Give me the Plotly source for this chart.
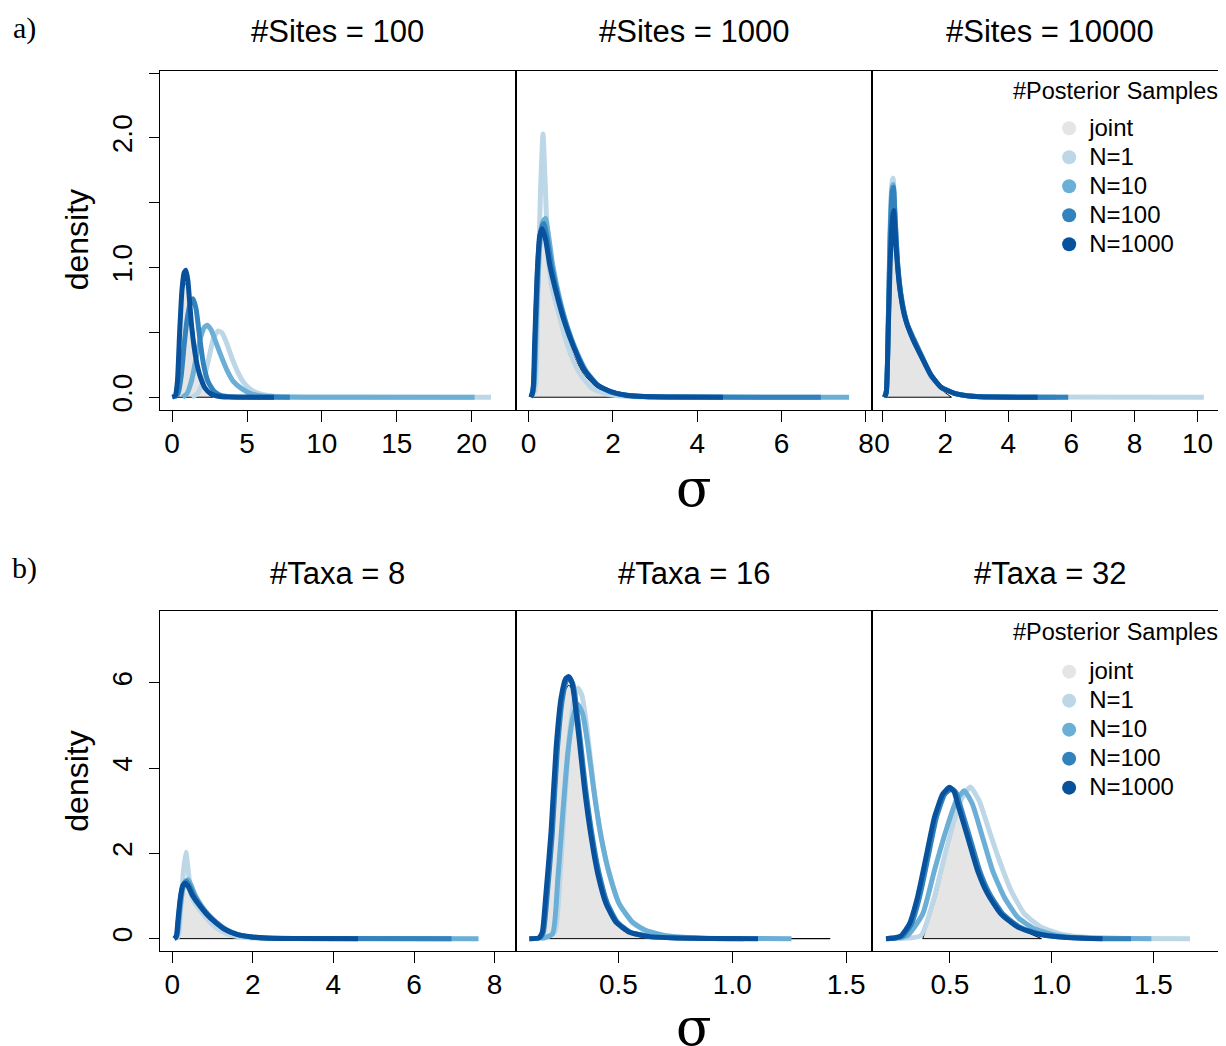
import plotly.graph_objects as go

# the page body adds an 8px margin, so the figure is drawn 8px smaller
OFF = 8
W, H = 1226 - OFF, 1046 - OFF

# colours: joint + Brewer Blues
series_names = ["joint", "N=1", "N=10", "N=100", "N=1000"]
series_colors = ["#E5E5E5", "#BDD7E7", "#6BAED6", "#3182BD", "#08519C"]

top_titles = ["#Sites = 100", "#Sites = 1000", "#Sites = 10000"]
bottom_titles = ["#Taxa = 8", "#Taxa = 16", "#Taxa = 32"]

# ---- a) #Sites = 100 ----
a1_joint_x = [0.05, 0.2, 0.35, 0.5, 0.65, 0.8, 0.95, 1.1, 1.3, 1.6, 1.9, 2.2, 2.7]
a1_joint_y = [0.0, 0.01, 0.10, 0.42, 0.72, 0.86, 0.88, 0.78, 0.52, 0.27, 0.13, 0.05, 0.0]
a1_n1_x = [1.3, 1.7, 2.1, 2.45, 2.75, 3.05, 3.3, 3.6, 4.0, 4.4, 4.8, 5.3, 6.0, 7.0, 9.0, 21.3]
a1_n1_y = [0.0, 0.03, 0.13, 0.30, 0.45, 0.51, 0.50, 0.43, 0.30, 0.19, 0.11, 0.055, 0.022, 0.006, 0.001, 0.0]
a1_n10_x = [0.7, 1.0, 1.3, 1.6, 1.9, 2.15, 2.35, 2.6, 2.9, 3.3, 3.7, 4.1, 4.6, 5.2, 6.0, 7.0, 9.0, 20.2]
a1_n10_y = [0.0, 0.03, 0.13, 0.30, 0.46, 0.54, 0.556, 0.52, 0.43, 0.31, 0.20, 0.12, 0.07, 0.03, 0.01, 0.003, 0.0, 0.0]
a1_n100_x = [0.15, 0.4, 0.6, 0.8, 1.0, 1.2, 1.4, 1.6, 1.85, 2.1, 2.4, 2.8, 3.3, 4.0, 7.86]
a1_n100_y = [0.0, 0.03, 0.16, 0.40, 0.60, 0.72, 0.76, 0.68, 0.45, 0.25, 0.12, 0.045, 0.012, 0.002, 0.0]
a1_n1000_x = [0.0, 0.2, 0.35, 0.5, 0.65, 0.8, 0.92, 1.05, 1.3, 1.6, 1.9, 2.2, 2.6, 3.2, 4.0, 6.8]
a1_n1000_y = [0.0, 0.01, 0.12, 0.50, 0.82, 0.96, 0.98, 0.90, 0.55, 0.29, 0.15, 0.07, 0.025, 0.006, 0.001, 0.0]

# ---- a) #Sites = 1000 (b) #Taxa = 8 shows the same curves) ----
a2_joint_x = [0.1, 0.14, 0.2, 0.26, 0.32, 0.4, 0.5, 0.66, 0.85, 1.05, 1.3, 1.6, 1.9, 2.08]
a2_joint_y = [0.0, 0.30, 0.86, 1.18, 1.26, 1.17, 0.96, 0.73, 0.50, 0.33, 0.18, 0.08, 0.03, 0.0]
a2_n1_x = [0.05, 0.15, 0.22, 0.28, 0.34, 0.40, 0.46, 0.55, 0.7, 0.85, 1.0, 1.2, 1.5, 1.9, 2.5, 4.0]
a2_n1_y = [0.0, 0.05, 0.80, 1.58, 2.03, 1.58, 1.10, 0.85, 0.66, 0.48, 0.33, 0.19, 0.07, 0.02, 0.004, 0.0]
a2_n10_x = [0.07, 0.13, 0.19, 0.26, 0.33, 0.40, 0.47, 0.57, 0.72, 0.9, 1.1, 1.35, 1.65, 2.0, 2.5, 3.5, 7.6]
a2_n10_y = [0.0, 0.10, 0.65, 1.15, 1.35, 1.38, 1.25, 1.02, 0.78, 0.56, 0.38, 0.21, 0.09, 0.035, 0.01, 0.001, 0.0]
a2_n100_x = [0.06, 0.12, 0.17, 0.23, 0.3, 0.36, 0.44, 0.55, 0.7, 0.9, 1.1, 1.35, 1.65, 2.0, 2.5, 3.5, 6.93]
a2_n100_y = [0.0, 0.10, 0.60, 1.10, 1.30, 1.34, 1.22, 1.00, 0.78, 0.55, 0.37, 0.20, 0.09, 0.035, 0.01, 0.001, 0.0]
a2_n1000_x = [0.05, 0.1, 0.14, 0.2, 0.26, 0.32, 0.4, 0.5, 0.66, 0.85, 1.05, 1.3, 1.6, 1.9, 2.3, 3.0, 4.61]
a2_n1000_y = [0.0, 0.04, 0.40, 0.94, 1.24, 1.30, 1.22, 1.02, 0.80, 0.58, 0.40, 0.22, 0.10, 0.05, 0.015, 0.003, 0.0]

# ---- a) #Sites = 10000 ----
a3_joint_x = [0.08, 0.13, 0.2, 0.26, 0.33, 0.37, 0.44, 0.55, 0.71, 0.97, 1.23, 1.55, 1.87, 2.2]
a3_joint_y = [0.0, 0.02, 0.50, 1.00, 1.33, 1.40, 1.13, 0.82, 0.60, 0.42, 0.30, 0.15, 0.06, 0.0]
a3_n1_x = [0.08, 0.14, 0.2, 0.26, 0.31, 0.35, 0.41, 0.5, 0.62, 0.8, 1.0, 1.25, 1.55, 1.87, 2.3, 2.9, 3.6, 10.2]
a3_n1_y = [0.0, 0.05, 0.65, 1.35, 1.65, 1.69, 1.40, 1.02, 0.76, 0.56, 0.44, 0.31, 0.16, 0.075, 0.028, 0.007, 0.001, 0.0]
a3_n10_x = [0.08, 0.14, 0.2, 0.26, 0.31, 0.35, 0.41, 0.5, 0.62, 0.8, 1.0, 1.25, 1.55, 1.87, 2.3, 2.9, 3.6, 5.5]
a3_n10_y = [0.0, 0.05, 0.62, 1.30, 1.60, 1.64, 1.38, 1.01, 0.76, 0.56, 0.45, 0.32, 0.17, 0.077, 0.03, 0.007, 0.001, 0.0]
a3_n100_x = [0.08, 0.14, 0.2, 0.26, 0.32, 0.36, 0.42, 0.5, 0.62, 0.8, 1.0, 1.25, 1.55, 1.87, 2.3, 2.9, 3.6, 5.9]
a3_n100_y = [0.0, 0.05, 0.60, 1.25, 1.58, 1.62, 1.35, 1.00, 0.75, 0.56, 0.45, 0.32, 0.17, 0.077, 0.03, 0.007, 0.001, 0.0]
a3_n1000_x = [0.08, 0.13, 0.2, 0.26, 0.33, 0.37, 0.44, 0.55, 0.71, 0.97, 1.23, 1.55, 1.87, 2.29, 2.82, 3.5, 4.93]
a3_n1000_y = [0.0, 0.03, 0.55, 1.06, 1.38, 1.44, 1.17, 0.86, 0.63, 0.45, 0.32, 0.17, 0.077, 0.03, 0.008, 0.001, 0.0]

# ---- b) #Taxa = 16 ----
b2_joint_x = [0.16, 0.18, 0.204, 0.226, 0.248, 0.268, 0.282, 0.296, 0.306, 0.328, 0.35, 0.38, 0.409, 0.446, 0.49, 0.548, 0.636, 0.754, 0.9, 1.1, 1.43]
b2_joint_y = [0.0, 0.70, 2.30, 4.20, 5.40, 5.85, 5.95, 5.85, 5.50, 4.50, 3.45, 2.30, 1.45, 0.76, 0.35, 0.13, 0.04, 0.012, 0.003, 0.001, 0.0]
b2_n1_x = [0.17, 0.22, 0.245, 0.265, 0.285, 0.305, 0.322, 0.34, 0.36, 0.39, 0.42, 0.455, 0.5, 0.56, 0.62, 0.7, 0.85, 1.0]
b2_n1_y = [0.0, 0.15, 1.60, 3.30, 4.80, 5.60, 5.88, 5.70, 5.00, 3.60, 2.50, 1.60, 0.85, 0.38, 0.17, 0.06, 0.01, 0.0]
b2_n10_x = [0.16, 0.21, 0.233, 0.255, 0.277, 0.3, 0.321, 0.343, 0.365, 0.394, 0.424, 0.46, 0.504, 0.563, 0.622, 0.71, 0.85, 1.0, 1.26]
b2_n10_y = [0.0, 0.11, 1.36, 2.92, 4.33, 5.19, 5.50, 5.27, 4.56, 3.39, 2.38, 1.52, 0.81, 0.38, 0.19, 0.07, 0.015, 0.003, 0.0]
b2_n100_x = [0.11, 0.155, 0.17, 0.185, 0.209, 0.231, 0.253, 0.272, 0.287, 0.301, 0.311, 0.333, 0.355, 0.385, 0.414, 0.451, 0.495, 0.553, 0.641, 0.76, 0.9, 1.05]
b2_n100_y = [0.0, 0.02, 0.15, 0.90, 2.45, 4.40, 5.60, 6.05, 6.10, 5.95, 5.62, 4.62, 3.55, 2.40, 1.55, 0.83, 0.39, 0.15, 0.047, 0.016, 0.003, 0.0]
b2_n1000_x = [0.108, 0.15, 0.165, 0.18, 0.204, 0.226, 0.248, 0.268, 0.282, 0.296, 0.306, 0.328, 0.35, 0.38, 0.409, 0.446, 0.49, 0.548, 0.636, 0.754, 0.9, 1.113]
b2_n1000_y = [0.0, 0.02, 0.15, 0.97, 2.53, 4.48, 5.66, 6.10, 6.15, 6.00, 5.66, 4.64, 3.55, 2.38, 1.52, 0.81, 0.38, 0.15, 0.047, 0.016, 0.003, 0.0]

# ---- b) #Taxa = 32 ----
b3_joint_x = [0.366, 0.43, 0.475, 0.515, 0.545, 0.587, 0.636, 0.685, 0.75, 0.833, 0.95]
b3_joint_y = [0.0, 0.95, 1.85, 2.70, 3.05, 2.30, 1.52, 1.00, 0.55, 0.25, 0.0]
b3_n1_x = [0.25, 0.357, 0.423, 0.472, 0.52, 0.56, 0.6, 0.644, 0.693, 0.743, 0.8, 0.866, 0.948, 1.06, 1.2, 1.68]
b3_n1_y = [0.0, 0.07, 0.97, 1.91, 2.77, 3.31, 3.56, 3.23, 2.53, 1.83, 1.13, 0.58, 0.27, 0.09, 0.02, 0.0]
b3_n10_x = [0.22, 0.29, 0.366, 0.423, 0.48, 0.53, 0.57, 0.61, 0.66, 0.71, 0.767, 0.833, 0.915, 1.03, 1.15, 1.49]
b3_n10_y = [0.0, 0.07, 0.58, 1.59, 2.53, 3.23, 3.47, 3.16, 2.38, 1.59, 0.97, 0.50, 0.23, 0.07, 0.02, 0.0]
b3_n100_x = [0.19, 0.24, 0.27, 0.31, 0.35, 0.392, 0.433, 0.474, 0.51, 0.53, 0.548, 0.597, 0.646, 0.695, 0.76, 0.843, 0.941, 1.07, 1.2, 1.39]
b3_n100_y = [0.0, 0.02, 0.07, 0.34, 0.97, 1.91, 2.84, 3.39, 3.52, 3.42, 3.16, 2.38, 1.59, 1.05, 0.58, 0.27, 0.11, 0.03, 0.006, 0.0]
b3_n1000_x = [0.185, 0.23, 0.26, 0.3, 0.34, 0.382, 0.423, 0.464, 0.497, 0.52, 0.538, 0.587, 0.636, 0.685, 0.75, 0.833, 0.931, 1.06, 1.15, 1.25]
b3_n1000_y = [0.0, 0.02, 0.07, 0.34, 0.97, 1.91, 2.84, 3.39, 3.55, 3.45, 3.16, 2.38, 1.59, 1.05, 0.58, 0.27, 0.11, 0.03, 0.008, 0.0]

panels = [
    [(a1_joint_x, a1_joint_y), (a1_n1_x, a1_n1_y), (a1_n10_x, a1_n10_y), (a1_n100_x, a1_n100_y), (a1_n1000_x, a1_n1000_y)],
    [(a2_joint_x, a2_joint_y), (a2_n1_x, a2_n1_y), (a2_n10_x, a2_n10_y), (a2_n100_x, a2_n100_y), (a2_n1000_x, a2_n1000_y)],
    [(a3_joint_x, a3_joint_y), (a3_n1_x, a3_n1_y), (a3_n10_x, a3_n10_y), (a3_n100_x, a3_n100_y), (a3_n1000_x, a3_n1000_y)],
    # #Taxa = 8 is drawn from the same curves as #Sites = 1000
    [(a2_joint_x, a2_joint_y), (a2_n1_x, a2_n1_y), (a2_n10_x, a2_n10_y), (a2_n100_x, a2_n100_y), (a2_n1000_x, a2_n1000_y)],
    [(b2_joint_x, b2_joint_y), (b2_n1_x, b2_n1_y), (b2_n10_x, b2_n10_y), (b2_n100_x, b2_n100_y), (b2_n1000_x, b2_n1000_y)],
    [(b3_joint_x, b3_joint_y), (b3_n1_x, b3_n1_y), (b3_n10_x, b3_n10_y), (b3_n100_x, b3_n100_y), (b3_n1000_x, b3_n1000_y)],
]

x_ranges = [[-0.82, 22.94], [-0.31, 8.15], [-0.31, 10.87],
            [-0.305, 8.52], [0.048, 1.615], [0.118, 1.852]]
x_ticks = [[0, 5, 10, 15, 20], [0, 2, 4, 6, 8], [0, 2, 4, 6, 8, 10],
           [0, 2, 4, 6, 8], [0.5, 1.0, 1.5], [0.5, 1.0, 1.5]]
x_ticktext = [None, None, None, None, ["0.5", "1.0", "1.5"], ["0.5", "1.0", "1.5"]]

y_range_top = [-0.095, 2.52]
y_ticks_top = [0, 0.5, 1.0, 1.5, 2.0, 2.5]
y_ticktext_top = ["0.0", "", "1.0", "", "2.0", ""]
y_range_bottom = [-0.28, 7.70]
y_ticks_bottom = [0, 2, 4, 6]

# panel edges in window pixels
col_px = [(160, 516), (516, 873), (873, 1226)]
row_px = [(70.7, 410.7), (612.3, 953.3)]

FONT = "Liberation Sans"


def fx(px):
    return (px - OFF) / W


def fy(py):
    return 1 - (py - OFF) / H


fig = go.Figure()

for k, series in enumerate(panels):
    ax = "" if k == 0 else str(k + 1)
    for i, (xs, ys) in enumerate(series):
        if i == 0:
            # joint posterior: grey area with thin black outline and baseline
            fig.add_trace(go.Scatter(
                x=xs, y=ys, mode="lines", fill="tozeroy",
                fillcolor=series_colors[0],
                line=dict(color="black", width=1, shape="spline", smoothing=0.5),
                xaxis="x" + ax, yaxis="y" + ax,
                showlegend=False, hoverinfo="skip"
            ))
            fig.add_trace(go.Scatter(
                x=[xs[0], xs[-1]], y=[0, 0], mode="lines",
                line=dict(color="black", width=1),
                xaxis="x" + ax, yaxis="y" + ax,
                showlegend=False, hoverinfo="skip"
            ))
        else:
            fig.add_trace(go.Scatter(
                x=xs, y=ys, mode="lines",
                line=dict(color=series_colors[i], width=5, shape="spline", smoothing=0.5),
                xaxis="x" + ax, yaxis="y" + ax,
                showlegend=False, hoverinfo="skip"
            ))

# legend entries (one legend per row); label text is drawn a bit larger
# than the legend font so the rows stay tight like the original
for leg, ax in [("legend", "3"), ("legend2", "6")]:
    for name, color in zip(series_names, series_colors):
        fig.add_trace(go.Scatter(
            x=[None], y=[None], mode="markers",
            marker=dict(size=14, color=color),
            name='<span style="font-size:24px">' + name + "</span>",
            legend=leg,
            xaxis="x" + ax, yaxis="y" + ax
        ))

layout = dict(
    width=W, height=H,
    margin=dict(l=0, r=0, t=0, b=0),
    paper_bgcolor="white", plot_bgcolor="white",
    font=dict(family=FONT, color="black"),
)

for k in range(6):
    r, c = divmod(k, 3)
    ax = "" if k == 0 else str(k + 1)
    x0, x1 = col_px[c]
    ytop, ybot = row_px[r]
    xa = dict(
        domain=[fx(x0), min(fx(x1), 1.0)], range=x_ranges[k],
        anchor="y" + ax,
        showgrid=False, zeroline=False,
        showline=True, mirror=True, linecolor="black", linewidth=1.2,
        ticks="outside", ticklen=11, tickwidth=1.2, tickcolor="black",
        tickvals=x_ticks[k],
        tickfont=dict(size=28, family=FONT),
        ticklabelstandoff=-2,
    )
    if x_ticktext[k]:
        xa["ticktext"] = x_ticktext[k]
    ya = dict(
        domain=[fy(ybot), fy(ytop)],
        range=y_range_top if r == 0 else y_range_bottom,
        anchor="x" + ax,
        showgrid=False, zeroline=False,
        showline=True, mirror=(c != 2), linecolor="black", linewidth=1.2,
    )
    if c == 0:
        ya.update(
            ticks="outside", ticklen=10, tickwidth=1.2, tickcolor="black",
            tickvals=y_ticks_top if r == 0 else y_ticks_bottom,
            tickangle=-90, tickfont=dict(size=28, family=FONT),
            ticklabelstandoff=6,
        )
        if r == 0:
            ya["ticktext"] = y_ticktext_top
    else:
        ya.update(ticks="", showticklabels=False)
    layout["xaxis" + ax] = xa
    layout["yaxis" + ax] = ya

legend_style = dict(
    font=dict(size=20, family=FONT, color="black"),
    bgcolor="rgba(0,0,0,0)", borderwidth=0,
    xanchor="left", yanchor="top", itemclick=False, itemdoubleclick=False,
)
layout["legend"] = dict(legend_style, x=fx(1050), y=fy(109))
layout["legend2"] = dict(legend_style, x=fx(1050), y=fy(654))

fig.update_layout(**layout)


def ann(text, px, py, size, family=FONT, angle=0):
    fig.add_annotation(
        text=text, x=fx(px), y=fy(py), xref="paper", yref="paper",
        showarrow=False, textangle=angle, xanchor="center", yanchor="middle",
        font=dict(size=size, family=family, color="black")
    )


centers = [338, 695, 1051]
for t, cx in zip(top_titles, centers):
    ann(t, cx, 32, 31)
for t, cx in zip(bottom_titles, centers):
    ann(t, cx, 575, 31)

ann("a)", 25, 28, 30, family="Liberation Serif")
ann("b)", 25, 570, 30, family="Liberation Serif")
ann("density", 77, 240, 32, angle=-90)
ann("density", 77, 783, 32, angle=-90)
ann("σ", 695, 489, 52, family="DejaVu Serif")
ann("σ", 695, 1030, 52, family="DejaVu Serif")
ann("#Posterior Samples", 1116, 91, 23.5)
ann("#Posterior Samples", 1116, 634, 23.5)

fig.write_html("out.html")
